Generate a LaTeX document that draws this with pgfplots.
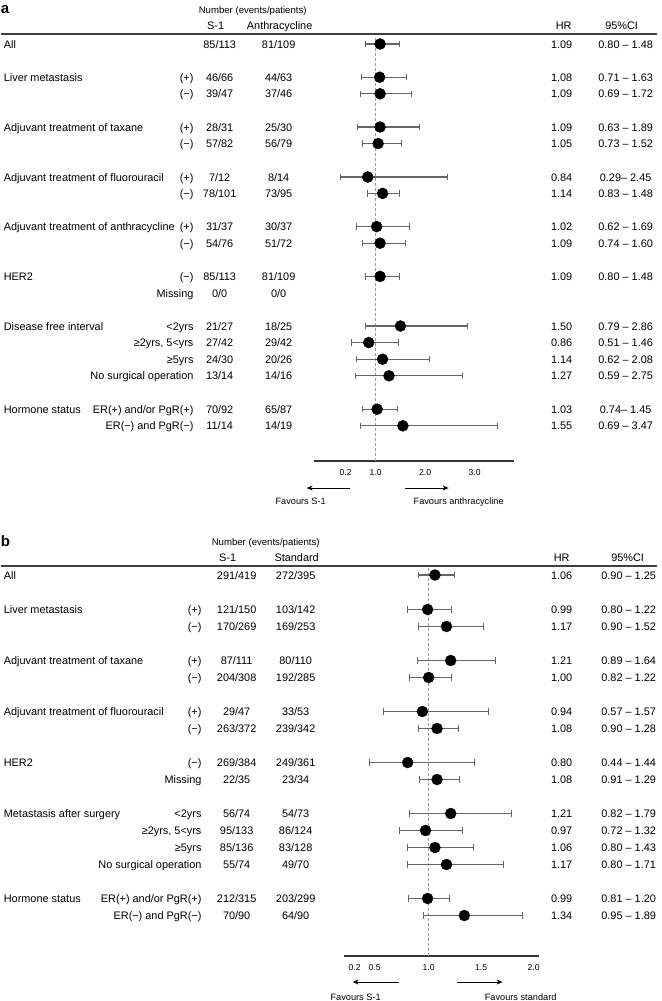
\documentclass[border=0pt]{standalone}
\usepackage{pgfplots}
\pgfplotsset{compat=1.18}
\usepackage{pgfplotstable}
\usepackage{fontspec}
\setmainfont{Liberation Sans}
\usetikzlibrary{arrows.meta}

% panel a: y = -(pixel row), hr, lower, upper
\pgfplotstableread{
y hr lo hi
-44 1.09 0.80 1.48
-77.2 1.08 0.71 1.63
-93.8 1.09 0.69 1.72
-127 1.09 0.63 1.89
-143.6 1.05 0.73 1.52
-177 0.84 0.29 2.45
-193.4 1.14 0.83 1.48
-226.6 1.02 0.62 1.69
-243.2 1.09 0.74 1.60
-276.4 1.09 0.80 1.48
-326 1.50 0.79 2.86
-342.6 0.86 0.51 1.46
-359.2 1.14 0.62 2.08
-375.8 1.27 0.59 2.75
-409.2 1.03 0.74 1.45
-425.8 1.55 0.69 3.47
}\tabA

\pgfplotstableread{
y hr lo hi
-575 1.06 0.90 1.25
-609.5 0.99 0.80 1.22
-626.5 1.17 0.90 1.52
-660.5 1.21 0.89 1.64
-677.5 1.00 0.82 1.22
-711.5 0.94 0.57 1.57
-728.5 1.08 0.90 1.28
-762.5 0.80 0.44 1.44
-779.5 1.08 0.91 1.29
-813.5 1.21 0.82 1.79
-830.5 0.97 0.72 1.32
-847.5 1.06 0.80 1.43
-864.5 1.17 0.80 1.71
-898.5 0.99 0.81 1.20
-915.5 1.34 0.95 1.89
}\tabB

\newcommand\fm{\fontsize{10.9}{13}\selectfont}
\newcommand\fn{\fontsize{9.6}{11}\selectfont}
\newcommand\ff{\fontsize{9.2}{11}\selectfont}
\newcommand\ft{\fontsize{8.6}{10}\selectfont}

\newcommand\xsub{193}
\newcommand\xc{219}
\newcommand\xd{278}
\newcommand\xhr{561}
\newcommand\xci{625}
\newcommand\R[7]{%
  \node[anchor=base west] at (3,#1+4) {#2};
  \node[anchor=base east] at (\xsub,#1+4) {#3};
  \node[anchor=base] at (\xc,#1+4) {#4};
  \node[anchor=base] at (\xd,#1+4) {#5};
  \node[anchor=base] at (\xhr,#1+4) {#6};
  \node[anchor=base] at (\xci,#1+4) {#7};
}

\pgfplotsset{
  forest/.style={
    scale only axis,
    axis x line*=bottom, axis y line=none,
    axis line style={-, draw=black!80, line width=1.3pt},
    major tick length=0pt,
    clip=false,
    xticklabel style={font=\ft, anchor=north, yshift=-5pt},
    /pgf/number format/assume math mode=true,
  },
  ci/.style={
    only marks, mark=*, mark size=5.5pt,
    mark options={fill=black, draw=black},
    error bars/.cd, x dir=both, x explicit,
    error mark=|,
    error bar style={draw=black!60, line width=1.1pt},
    error mark options={draw=black!60, line width=1.1pt, mark size=3.2pt},
  },
}

\begin{document}
\begin{tikzpicture}
\path (0pt,0pt) rectangle (661pt,-1001pt);

% ---------------- panel a ----------------
\begin{axis}[forest,
  at={(313pt,-461pt)}, anchor=south west,
  width=200pt, height=427pt,
  xmin=-0.2525, xmax=3.7879, ymin=-461, ymax=-34,
  xtick={0.394,1,2,3}, xticklabels={0.2,1.0,2.0,3.0},
]
\addplot[draw=black!40, line width=1.2pt, dash pattern=on 3pt off 2pt] coordinates {(1,-38) (1,-461)};
\addplot[ci] table[x=hr, y=y, x error plus expr=\thisrow{hi}-\thisrow{hr}, x error minus expr=\thisrow{hr}-\thisrow{lo}] {\tabA};
\end{axis}

% ---------------- panel b ----------------
\begin{axis}[forest,
  at={(343pt,-956pt)}, anchor=south west,
  width=195pt, height=390pt,
  xmin=0.1905, xmax=2.0476, ymin=-956, ymax=-566,
  xtick={0.295,0.486,1,1.5,2}, xticklabels={0.2,0.5,1.0,1.5,2.0},
]
\addplot[draw=black!40, line width=1.2pt, dash pattern=on 3pt off 2pt] coordinates {(1,-568) (1,-956)};
\addplot[ci] table[x=hr, y=y, x error plus expr=\thisrow{hi}-\thisrow{hr}, x error minus expr=\thisrow{hr}-\thisrow{lo}] {\tabB};
\end{axis}

\begin{scope}[x=1pt, y=-1pt, every node/.style={inner sep=0pt, font=\fm}]
% ---- panel a text ----
\node[anchor=base west, font=\fontsize{15}{15}\selectfont\bfseries] at (0,13) {a};
\node[anchor=base, font=\fn] at (252,13.5) {Number (events/patients)};
\node[anchor=base] at (215,29) {S-1};
\node[anchor=base] at (279,29) {Anthracycline};
\node[anchor=base] at (563,29) {HR};
\node[anchor=base] at (621,29) {95\%CI};
\draw[line width=1.3pt, black!75] (0,34) -- (656,34);
\R{44}{All}{}{85/113}{81/109}{1.09}{0.80 – 1.48}
\R{77.2}{Liver metastasis}{(+)}{46/66}{44/63}{1.08}{0.71 – 1.63}
\R{93.8}{}{(−)}{39/47}{37/46}{1.09}{0.69 – 1.72}
\R{127}{Adjuvant treatment of taxane}{(+)}{28/31}{25/30}{1.09}{0.63 – 1.89}
\R{143.6}{}{(−)}{57/82}{56/79}{1.05}{0.73 – 1.52}
\R{177}{Adjuvant treatment of fluorouracil}{(+)}{7/12}{8/14}{0.84}{0.29– 2.45}
\R{193.4}{}{(−)}{78/101}{73/95}{1.14}{0.83 – 1.48}
\R{226.6}{Adjuvant treatment of anthracycline}{(+)}{31/37}{30/37}{1.02}{0.62 – 1.69}
\R{243.2}{}{(−)}{54/76}{51/72}{1.09}{0.74 – 1.60}
\R{276.4}{HER2}{(−)}{85/113}{81/109}{1.09}{0.80 – 1.48}
\R{293}{}{Missing}{0/0}{0/0}{}{}
\R{326}{Disease free interval}{<2yrs}{21/27}{18/25}{1.50}{0.79 – 2.86}
\R{342.6}{}{≥2yrs, 5<yrs}{27/42}{29/42}{0.86}{0.51 – 1.46}
\R{359.2}{}{≥5yrs}{24/30}{20/26}{1.14}{0.62 – 2.08}
\R{375.8}{}{No surgical operation}{13/14}{14/16}{1.27}{0.59 – 2.75}
\R{409.2}{Hormone status}{ER(+) and/or PgR(+)}{70/92}{65/87}{1.03}{0.74– 1.45}
\R{425.8}{}{ER(−) and PgR(−)}{11/14}{14/19}{1.55}{0.69 – 3.47}
\draw[line width=0.9pt, -{Stealth[length=6pt, width=5pt]}] (349,488) -- (306,488);
\draw[line width=0.9pt, -{Stealth[length=6pt, width=5pt]}] (404,488) -- (448,488);
\node[anchor=base, font=\ff] at (300,504.5) {Favours S-1};
\node[anchor=base, font=\ff] at (458,504.5) {Favours anthracycline};

% ---- panel b text ----
\renewcommand\xsub{201}
\renewcommand\xc{236}
\renewcommand\xd{295}
\renewcommand\xhr{561}
\renewcommand\xci{628}
\node[anchor=base west, font=\fontsize{15}{15}\selectfont\bfseries] at (0,546) {b};
\node[anchor=base, font=\fn] at (265,545.5) {Number (events/patients)};
\node[anchor=base] at (227,561) {S-1};
\node[anchor=base] at (296,561) {Standard};
\node[anchor=base] at (561,561) {HR};
\node[anchor=base] at (627,561) {95\%CI};
\draw[line width=1.3pt, black!75] (0,566) -- (656,566);
\R{575}{All}{}{291/419}{272/395}{1.06}{0.90 – 1.25}
\R{609.5}{Liver metastasis}{(+)}{121/150}{103/142}{0.99}{0.80 – 1.22}
\R{626.5}{}{(−)}{170/269}{169/253}{1.17}{0.90 – 1.52}
\R{660.5}{Adjuvant treatment of taxane}{(+)}{87/111}{80/110}{1.21}{0.89 – 1.64}
\R{677.5}{}{(−)}{204/308}{192/285}{1.00}{0.82 – 1.22}
\R{711.5}{Adjuvant treatment of fluorouracil}{(+)}{29/47}{33/53}{0.94}{0.57 – 1.57}
\R{728.5}{}{(−)}{263/372}{239/342}{1.08}{0.90 – 1.28}
\R{762.5}{HER2}{(−)}{269/384}{249/361}{0.80}{0.44 – 1.44}
\R{779.5}{}{Missing}{22/35}{23/34}{1.08}{0.91 – 1.29}
\R{813.5}{Metastasis after surgery}{<2yrs}{56/74}{54/73}{1.21}{0.82 – 1.79}
\R{830.5}{}{≥2yrs, 5<yrs}{95/133}{86/124}{0.97}{0.72 – 1.32}
\R{847.5}{}{≥5yrs}{85/136}{83/128}{1.06}{0.80 – 1.43}
\R{864.5}{}{No surgical operation}{55/74}{49/70}{1.17}{0.80 – 1.71}
\R{898.5}{Hormone status}{ER(+) and/or PgR(+)}{212/315}{203/299}{0.99}{0.81 – 1.20}
\R{915.5}{}{ER(−) and PgR(−)}{70/90}{64/90}{1.34}{0.95 – 1.89}
\draw[line width=0.9pt, -{Stealth[length=6pt, width=5pt]}] (398,982) -- (352,982);
\draw[line width=0.9pt, -{Stealth[length=6pt, width=5pt]}] (456,982) -- (502,982);
\node[anchor=base, font=\ff] at (355,1000.3) {Favours S-1};
\node[anchor=base, font=\ff] at (520,1000.3) {Favours standard};
\end{scope}
\end{tikzpicture}
\end{document}
